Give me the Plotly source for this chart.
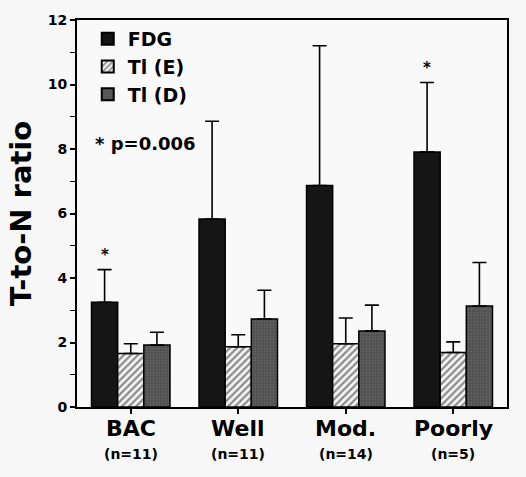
import plotly.graph_objects as go

categories = ["BAC", "Well", "Mod.", "Poorly"]
n_labels = ["(n=11)", "(n=11)", "(n=14)", "(n=5)"]
series_names = ["FDG", "Tl (E)", "Tl (D)"]
fdg = [3.25, 5.83, 6.87, 7.91]
fdg_err = [1.01, 3.03, 4.33, 2.15]
tle = [1.66, 1.87, 1.96, 1.69]
tle_err = [0.30, 0.37, 0.80, 0.33]
tld = [1.92, 2.73, 2.36, 3.13]
tld_err = [0.40, 0.89, 0.80, 1.35]
signif = [True, False, False, True]
y_ticks = [0, 2, 4, 6, 8, 10, 12]

FONT = "DejaVu Sans, Arial, sans-serif"
x = list(range(len(categories)))

def err(arr):
    return dict(type="data", array=arr, arrayminus=[0] * len(arr), symmetric=False,
                color="black", thickness=1.6, width=7)

fig = go.Figure()
fig.add_trace(go.Bar(name=f"<b>{series_names[0]}</b>", x=x, y=fdg, error_y=err(fdg_err),
                     marker=dict(color="#151515", line=dict(color="black", width=1.5))))
fig.add_trace(go.Bar(name=f"<b>{series_names[1]}</b>", x=x, y=tle, error_y=err(tle_err),
                     marker=dict(color="white", line=dict(color="black", width=1.5),
                                 pattern=dict(shape="/", fgcolor="#222", bgcolor="#f4f4f4",
                                              size=5, solidity=0.45))))
fig.add_trace(go.Bar(name=f"<b>{series_names[2]}</b>", x=x, y=tld, error_y=err(tld_err),
                     marker=dict(color="#5a5a5a", line=dict(color="black", width=1.5),
                                 pattern=dict(shape=".", fgcolor="#7a7a7a", bgcolor="#505050",
                                              size=3, solidity=0.3))))

bw = (1 - 0.27) / 3
annotations = []
for i, s in enumerate(signif):
    if s:
        annotations.append(dict(x=i - bw, y=fdg[i] + fdg_err[i], xref="x", yref="y",
                                text="<b>*</b>", showarrow=False, yanchor="bottom",
                                yshift=4, font=dict(size=15, color="black", family=FONT)))
for i, (c, n) in enumerate(zip(categories, n_labels)):
    annotations.append(dict(x=i, y=0, xref="x", yref="paper", yanchor="middle",
                            yshift=-21, text=f"<b>{c}</b>", showarrow=False,
                            font=dict(size=22, color="black", family=FONT)))
    annotations.append(dict(x=i, y=0, xref="x", yref="paper", yanchor="middle",
                            yshift=-47, text=f"<b>{n}</b>", showarrow=False,
                            font=dict(size=14, color="black", family=FONT)))
annotations.append(dict(x=0.037, y=0.682, xref="paper", yref="paper", xanchor="left",
                        yanchor="middle", text="<b>* p=0.006</b>", showarrow=False,
                        font=dict(size=18, color="black", family=FONT)))

fig.update_layout(
    width=526, height=477,
    margin=dict(l=77, r=19, t=16, b=70),
    barmode="group", bargap=0.27, bargroupgap=0,
    paper_bgcolor="#f7f7f7", plot_bgcolor="#f9f9f9",
    font=dict(family=FONT, color="black"),
    showlegend=True,
    legend=dict(x=0.025, y=1.0, xanchor="left", yanchor="top",
                bgcolor="rgba(0,0,0,0)", font=dict(size=19, family=FONT, color="black"),
                itemsizing="constant"),
    annotations=annotations,
    xaxis=dict(tickmode="array", tickvals=x, showticklabels=False,
               range=[-0.5, len(categories) - 0.5],
               tickson="boundaries", ticks="outside", ticklen=5, tickwidth=1.5,
               tickcolor="black", showline=True, linecolor="black", linewidth=1.8,
               mirror=True, showgrid=False),
    yaxis=dict(range=[0, 12], tickmode="array", tickvals=y_ticks,
               ticktext=[f"<b>{v}</b>" for v in y_ticks],
               ticks="outside", ticklen=5, tickwidth=1.5, tickcolor="black",
               minor=dict(dtick=1, ticks="outside", ticklen=5, tickwidth=1.2, tickcolor="black"),
               showline=True, linecolor="black", linewidth=1.8, mirror=True, showgrid=False,
               zeroline=False,
               tickfont=dict(size=14, family=FONT, color="black"),
               title=dict(text="<b>T-to-N ratio</b>", standoff=8,
                          font=dict(size=29, family=FONT, color="black"))),
)

fig.write_html("out.html")
